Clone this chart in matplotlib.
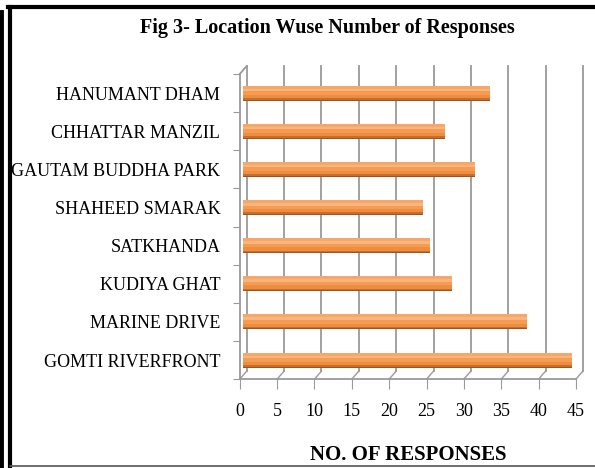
import matplotlib.pyplot as plt
from matplotlib.transforms import offset_copy
from matplotlib.lines import Line2D

locations = ['GOMTI RIVERFRONT', 'MARINE DRIVE', 'KUDIYA GHAT', 'SATKHANDA',
             'SHAHEED SMARAK', 'GAUTAM BUDDHA PARK', 'CHHATTAR MANZIL', 'HANUMANT DHAM']
responses = [44, 38, 28, 25, 24, 31, 27, 33]
xticks = [0, 5, 10, 15, 20, 25, 30, 35, 40, 45]

plt.rcParams['font.family'] = ['Liberation Serif', 'DejaVu Serif']

fig = plt.figure(figsize=(5.95, 4.68), dpi=100)
ax = fig.add_axes([0.403, 0.190, 0.565, 0.652])
ax.set_xlim(0, 45)
ax.set_ylim(-0.5, len(locations) - 0.5)

grid_c = '#9a9a9a'
dx, dy = 7, 8  # depth of the fake 3d wall, in pixels
back = offset_copy(ax.transData, fig=fig, x=dx, y=dy, units='dots')
mid = offset_copy(ax.transData, fig=fig, x=3.5, y=0, units='dots')

# back wall gridlines
for v in xticks:
    ax.plot([v, v], [-0.5, len(locations) - 0.5], color=grid_c, lw=1.3,
            transform=back, clip_on=False, zorder=1)
# floor diagonals from front ticks to back wall
fig.canvas.draw()
for v in xticks:
    x0, y0 = ax.transData.transform((v, -0.5))
    fig.add_artist(Line2D([x0, x0 + dx], [y0, y0 + dy], color=grid_c, lw=1, transform=None))
# left wall top diagonal
x0, y0 = ax.transData.transform((0, len(locations) - 0.5))
fig.add_artist(Line2D([x0, x0 + dx], [y0, y0 + dy], color=grid_c, lw=1.3, transform=None))

# bars, drawn as stacked strips for a cylinder look
ypos = list(range(len(locations)))
bar_h = 0.39
strips = [  # (offset from centre, height, colour), top to bottom
    (0.15, 0.09, '#F6A868'),
    (0.08, 0.07, '#F9B57E'),
    (0.0, 0.10, '#F59C52'),
    (-0.09, 0.09, '#EE8C3F'),
    (-0.16, 0.06, '#C86E2C'),
    (-0.185, 0.025, '#9C5520'),
]
for off, h, c in strips:
    ax.barh([y + off for y in ypos], responses, height=h, color=c,
            linewidth=0, transform=mid, zorder=3)

ax.set_yticks([y - 0.5 for y in ypos] + [len(locations) - 0.5])
ax.set_yticklabels([])
ax.set_yticks(ypos, minor=True)
ax.set_yticklabels(locations, minor=True, fontsize=13)
ax.tick_params(axis='y', which='minor', length=0, pad=14)
ax.tick_params(axis='y', which='major', length=5, color=grid_c, direction='out')

ax.set_xticks(xticks)
ax.set_xticklabels([str(v) for v in xticks], fontsize=13)
ax.tick_params(axis='x', length=7, color=grid_c, pad=10)

for s in ['top', 'right']:
    ax.spines[s].set_visible(False)
for s in ['left', 'bottom']:
    ax.spines[s].set_color(grid_c)
    ax.spines[s].set_linewidth(1.3)
ax.patch.set_alpha(0)

ax.set_xlabel('NO. OF RESPONSES', fontsize=15, fontweight='bold', labelpad=18)
fig.text(0.55, 0.94, 'Fig 3- Location Wuse Number of Responses', ha='center',
         va='center', fontsize=14.5, fontweight='bold')

# page frame
fig.add_artist(Line2D([0.0025, 0.0025], [0, 0.975], color='black', lw=3.5))
fig.add_artist(Line2D([0.016, 0.016], [0, 0.985], color='black', lw=3))
fig.add_artist(Line2D([0.014, 1.0], [0.985, 0.985], color='black', lw=3))
fig.add_artist(Line2D([0.016, 1.0], [0.004, 0.004], color='#555555', lw=1.2))

fig.savefig('out.png', dpi=100)
